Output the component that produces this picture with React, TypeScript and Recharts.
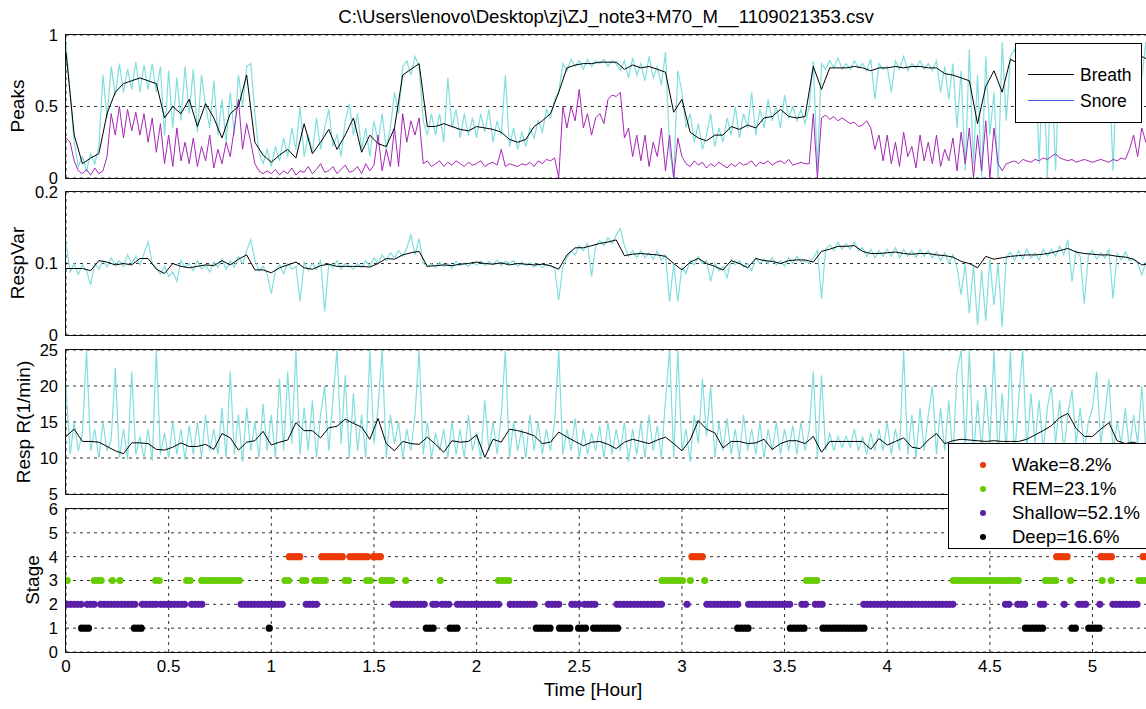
import React from "react"
import { ComposedChart, Line, Scatter, XAxis, YAxis, CartesianGrid } from "recharts"

const FINE_STEP = 0.02
const SMOOTH_STEP = 0.04
const EPOCH = 1 / 60
const X_MAX = 5.28
const PAD = 12
const hourTicks = [0, 0.5, 1, 1.5, 2, 2.5, 3, 3.5, 4, 4.5, 5]
const FONT = "'Liberation Sans', Arial, sans-serif"

// Peaks panel
const breathRaw = [
  0.94, 0.6, 0.25, 0.08, 0.15, 0.05, 0.17, 0.1, 0.22, 0.72,
  0.42, 0.78, 0.58, 0.8, 0.6, 0.76, 0.62, 0.81, 0.6, 0.79,
  0.62, 0.8, 0.6, 0.78, 0.3, 0.75, 0.35, 0.7, 0.4, 0.78,
  0.45, 0.76, 0.32, 0.72, 0.5, 0.35, 0.68, 0.3, 0.55, 0.25,
  0.6, 0.3, 0.72, 0.5, 0.78, 0.8, 0.45, 0.18, 0.1, 0.2,
  0.08, 0.22, 0.12, 0.28, 0.15, 0.35, 0.2, 0.5, 0.15, 0.3,
  0.18, 0.42, 0.2, 0.35, 0.48, 0.22, 0.3, 0.15, 0.4, 0.52,
  0.3, 0.45, 0.2, 0.35, 0.15, 0.4, 0.25, 0.45, 0.2, 0.35,
  0.6, 0.45, 0.78, 0.82, 0.72, 0.85, 0.78, 0.4, 0.3, 0.45,
  0.3, 0.45, 0.25, 0.7, 0.35, 0.48, 0.28, 0.45, 0.3, 0.42,
  0.28, 0.45, 0.32, 0.48, 0.25, 0.4, 0.3, 0.72, 0.22, 0.35,
  0.2, 0.32, 0.22, 0.35, 0.28, 0.4, 0.32, 0.48, 0.42, 0.55,
  0.6, 0.8, 0.75, 0.83, 0.78, 0.82, 0.76, 0.83, 0.78, 0.82,
  0.8, 0.83, 0.78, 0.82, 0.8, 0.75, 0.82, 0.7, 0.84, 0.72,
  0.8, 0.68, 0.85, 0.7, 0.78, 0.65, 0.88, 0.2, 0.0, 0.75,
  0.6, 0.35, 0.45, 0.25, 0.38, 0.2, 0.3, 0.45, 0.22, 0.35,
  0.25, 0.42, 0.3, 0.5, 0.28, 0.45, 0.35, 0.6, 0.3, 0.48,
  0.35, 0.55, 0.4, 0.5, 0.35, 0.58, 0.42, 0.5, 0.4, 0.48,
  0.38, 0.5, 0.82, 0.05, 0.8, 0.76, 0.82, 0.77, 0.84, 0.76,
  0.8, 0.76, 0.82, 0.77, 0.8, 0.75, 0.83, 0.55, 0.8, 0.76,
  0.78, 0.6, 0.82, 0.76, 0.85, 0.75, 0.8, 0.77, 0.82, 0.76,
  0.8, 0.75, 0.82, 0.6, 0.78, 0.55, 0.8, 0.35, 0.75, 0.05,
  0.9, 0.1, 0.72, 0.0, 0.85, 0.3, 0.6, 0.0, 0.95, 0.4,
  0.85, 0.9, 0.8, 0.92, 0.85, 0.5, 0.88, 0.1, 0.85, 0.0,
  0.8, 0.05, 0.85, 0.78, 0.82, 0.6, 0.8, 0.75, 0.82, 0.78,
  0.8, 0.76, 0.82, 0.78, 0.8, 0.05, 0.85, 0.76, 0.82, 0.8,
  0.85, 0.9, 0.7, 0.95, 0.65,
]

const snoreRaw = [
  0.28, 0.25, 0.12, 0.05, 0.03, 0.06, 0.02, 0.07, 0.03, 0.05,
  0.15, 0.45, 0.3, 0.5, 0.28, 0.48, 0.33, 0.46, 0.3, 0.45,
  0.25, 0.42, 0.18, 0.38, 0.1, 0.3, 0.08, 0.35, 0.12, 0.25,
  0.1, 0.28, 0.08, 0.22, 0.12, 0.3, 0.07, 0.2, 0.1, 0.25,
  0.15, 0.35, 0.55, 0.2, 0.38, 0.25, 0.1, 0.05, 0.03, 0.05,
  0.03, 0.06, 0.02, 0.05, 0.03, 0.07, 0.02, 0.05, 0.04, 0.08,
  0.03, 0.06, 0.1, 0.04, 0.05, 0.08, 0.03, 0.06, 0.09, 0.04,
  0.05, 0.08, 0.03, 0.1, 0.05, 0.09, 0.3, 0.05, 0.2, 0.08,
  0.35, 0.08, 0.45, 0.25, 0.4, 0.3, 0.42, 0.1, 0.12, 0.08,
  0.1, 0.12, 0.08, 0.11, 0.09, 0.12, 0.1, 0.08, 0.11, 0.09,
  0.1, 0.12, 0.08, 0.1, 0.11, 0.09, 0.2, 0.08, 0.1, 0.09,
  0.08, 0.1, 0.09, 0.11, 0.08, 0.12, 0.1, 0.13, 0.12, 0.14,
  0.0, 0.5, 0.35, 0.5, 0.4, 0.62, 0.35, 0.45, 0.3, 0.42,
  0.45, 0.38, 0.55, 0.58, 0.57, 0.6, 0.28, 0.35, 0.15, 0.3,
  0.12, 0.3, 0.08, 0.25, 0.15, 0.35, 0.05, 0.3, 0.0, 0.28,
  0.15, 0.1, 0.08, 0.12, 0.09, 0.11, 0.07, 0.1, 0.08, 0.11,
  0.09, 0.07, 0.1, 0.08, 0.11, 0.09, 0.1, 0.12, 0.08, 0.11,
  0.1, 0.12, 0.09, 0.11, 0.12, 0.1, 0.13, 0.09, 0.1, 0.11,
  0.1, 0.1, 0.45, 0.0, 0.42, 0.44, 0.41, 0.43, 0.4, 0.42,
  0.4, 0.38, 0.39, 0.36, 0.37, 0.4, 0.35, 0.2, 0.3, 0.12,
  0.3, 0.1, 0.25, 0.08, 0.32, 0.15, 0.22, 0.07, 0.3, 0.12,
  0.25, 0.1, 0.3, 0.08, 0.2, 0.12, 0.28, 0.05, 0.32, 0.1,
  0.35, 0.0, 0.3, 0.05, 0.4, 0.0, 0.35, 0.1, 0.05, 0.1,
  0.11, 0.12, 0.1, 0.13, 0.12, 0.11, 0.13, 0.12, 0.14, 0.13,
  0.15, 0.17, 0.14, 0.13, 0.12, 0.13, 0.11, 0.12, 0.13, 0.12,
  0.11, 0.12, 0.13, 0.12, 0.11, 0.13, 0.12, 0.14, 0.13, 0.2,
  0.3, 0.15, 0.35, 0.25, 0.32,
]

const breathSmooth = [
  0.88, 0.3, 0.1, 0.14, 0.17, 0.45, 0.6, 0.66, 0.68, 0.7,
  0.68, 0.66, 0.42, 0.5, 0.45, 0.55, 0.36, 0.52, 0.42, 0.28,
  0.45, 0.5, 0.72, 0.25, 0.16, 0.11, 0.16, 0.2, 0.14, 0.38,
  0.17, 0.25, 0.34, 0.2, 0.3, 0.42, 0.18, 0.3, 0.24, 0.22,
  0.35, 0.72, 0.76, 0.8, 0.36, 0.36, 0.38, 0.36, 0.34, 0.33,
  0.36, 0.35, 0.34, 0.32, 0.27, 0.25, 0.27, 0.36, 0.4, 0.45,
  0.6, 0.77, 0.79, 0.8, 0.8, 0.81, 0.81, 0.81, 0.76, 0.79,
  0.77, 0.78, 0.76, 0.74, 0.46, 0.55, 0.32, 0.28, 0.26, 0.3,
  0.3, 0.36, 0.34, 0.37, 0.35, 0.42, 0.43, 0.48, 0.43, 0.42,
  0.43, 0.78, 0.62, 0.77, 0.77, 0.77, 0.78, 0.77, 0.75, 0.77,
  0.77, 0.78, 0.77, 0.78, 0.78, 0.77, 0.77, 0.73, 0.72, 0.7,
  0.68, 0.38, 0.64, 0.75, 0.6, 0.83, 0.8, 0.78, 0.8, 0.75,
  0.8, 0.76, 0.72, 0.78, 0.8, 0.82, 0.8, 0.78, 0.82, 0.8,
  0.84, 0.85, 0.82,
]

// RespVar panel
const varRaw = [
  0.128, 0.088, 0.1, 0.085, 0.098, 0.09, 0.07, 0.1, 0.092, 0.104,
  0.095, 0.108, 0.098, 0.104, 0.096, 0.112, 0.1, 0.11, 0.098, 0.114,
  0.13, 0.1, 0.094, 0.085, 0.096, 0.082, 0.088, 0.075, 0.104, 0.095,
  0.1, 0.09, 0.104, 0.092, 0.098, 0.088, 0.102, 0.095, 0.106, 0.092,
  0.104, 0.095, 0.11, 0.1, 0.118, 0.133, 0.105, 0.09, 0.096, 0.085,
  0.058, 0.09, 0.098, 0.086, 0.1, 0.092, 0.096, 0.047, 0.102, 0.09,
  0.1, 0.092, 0.104, 0.033, 0.1, 0.094, 0.104, 0.092, 0.1, 0.096,
  0.092, 0.1, 0.094, 0.104, 0.096, 0.108, 0.1, 0.112, 0.104, 0.115,
  0.108, 0.118, 0.11, 0.122, 0.14, 0.112, 0.135, 0.1, 0.095, 0.1,
  0.094, 0.102, 0.096, 0.1, 0.093, 0.103, 0.097, 0.101, 0.096, 0.102,
  0.098, 0.104, 0.097, 0.103, 0.099, 0.105, 0.097, 0.103, 0.1, 0.104,
  0.096, 0.102, 0.097, 0.101, 0.095, 0.1, 0.094, 0.099, 0.096, 0.094,
  0.049, 0.095, 0.108, 0.118, 0.112, 0.125, 0.118, 0.128, 0.082, 0.125,
  0.132, 0.125, 0.136, 0.128, 0.14, 0.149, 0.125, 0.11, 0.118, 0.108,
  0.118, 0.108, 0.115, 0.106, 0.118, 0.104, 0.112, 0.047, 0.1, 0.047,
  0.095, 0.086, 0.104, 0.098, 0.11, 0.1, 0.104, 0.075, 0.1, 0.09,
  0.096, 0.08, 0.106, 0.098, 0.104, 0.095, 0.1, 0.09, 0.108, 0.1,
  0.106, 0.1, 0.108, 0.098, 0.104, 0.096, 0.108, 0.1, 0.11, 0.102,
  0.104, 0.1, 0.108, 0.118, 0.051, 0.12, 0.126, 0.118, 0.13, 0.12,
  0.128, 0.12, 0.13, 0.118, 0.122, 0.11, 0.12, 0.108, 0.118, 0.11,
  0.12, 0.11, 0.122, 0.108, 0.12, 0.11, 0.118, 0.108, 0.12, 0.11,
  0.118, 0.108, 0.116, 0.104, 0.115, 0.1, 0.112, 0.095, 0.056, 0.1,
  0.03, 0.098, 0.014, 0.09, 0.02, 0.106, 0.042, 0.1, 0.012, 0.108,
  0.116, 0.104, 0.118, 0.106, 0.12, 0.108, 0.115, 0.105, 0.12, 0.11,
  0.12, 0.11, 0.124, 0.112, 0.133, 0.075, 0.118, 0.11, 0.044, 0.112,
  0.118, 0.106, 0.115, 0.108, 0.12, 0.051, 0.114, 0.105, 0.116, 0.104,
  0.106, 0.1, 0.084, 0.102, 0.108,
]

const varSmooth = [
  0.093, 0.093, 0.093, 0.09, 0.104, 0.102, 0.098, 0.1, 0.098, 0.107,
  0.107, 0.092, 0.086, 0.1, 0.096, 0.094, 0.096, 0.098, 0.097, 0.104,
  0.098, 0.106, 0.112, 0.091, 0.091, 0.087, 0.094, 0.098, 0.102, 0.094,
  0.092, 0.097, 0.099, 0.096, 0.096, 0.096, 0.096, 0.095, 0.1, 0.107,
  0.106, 0.112, 0.115, 0.117, 0.096, 0.097, 0.098, 0.097, 0.099, 0.1,
  0.102, 0.1, 0.099, 0.101, 0.098, 0.1, 0.099, 0.098, 0.099, 0.097,
  0.092, 0.112, 0.122, 0.122, 0.125, 0.128, 0.13, 0.133, 0.111, 0.113,
  0.114, 0.113, 0.112, 0.11, 0.1, 0.091, 0.102, 0.107, 0.1, 0.096,
  0.091, 0.104, 0.1, 0.094, 0.107, 0.104, 0.103, 0.1, 0.104, 0.105,
  0.105, 0.102, 0.117, 0.12, 0.124, 0.124, 0.125, 0.117, 0.114, 0.114,
  0.115, 0.116, 0.114, 0.113, 0.114, 0.114, 0.112, 0.111, 0.109, 0.103,
  0.1, 0.094, 0.11, 0.106, 0.108, 0.11, 0.111, 0.112, 0.112, 0.113,
  0.115, 0.118, 0.121, 0.116, 0.114, 0.113, 0.112, 0.112, 0.11, 0.109,
  0.106, 0.098, 0.1,
]

// Resp R panel
const rateRaw = [
  20, 10.5, 15, 11, 13.5, 25, 11, 14, 10, 15,
  11, 12.5, 22.5, 10, 14, 9.8, 22, 10.5, 13, 10,
  14, 9.6, 25, 10.5, 13.5, 10, 15, 10.5, 14, 9.8,
  14.5, 10.5, 15, 10, 16, 11, 14, 10.5, 17, 10,
  22, 10.5, 16, 9.5, 17, 11, 15, 10, 17.5, 11,
  16, 10, 21, 11, 22, 12, 25, 10.5, 17, 11,
  18, 10, 16, 20, 11, 18, 25, 12, 21.5, 10,
  19, 11, 16, 10, 25, 12, 17, 25, 10, 16,
  12, 15, 10, 14, 11, 16, 25, 10.5, 15, 10,
  13.5, 11, 14, 10, 15, 10.5, 14, 10, 16, 11,
  13.5, 10, 18, 11, 15, 10.5, 16, 25, 10, 15,
  11, 14, 10, 16, 11, 15, 10.5, 14, 11, 15,
  25, 10.5, 14, 11, 15.5, 10, 14, 10.5, 13.5, 11,
  14.5, 10, 15, 10.5, 14, 11, 15, 9.5, 14, 10.5,
  15, 10, 16, 11, 14.5, 10, 18, 25, 10, 25,
  11, 14, 9.5, 16, 12, 21, 13, 20, 10, 15,
  11, 15.5, 10.5, 14, 10, 16, 11, 14, 10.5, 15,
  10, 14, 11, 15, 10.5, 14, 11, 14.5, 10.5, 15,
  11, 14, 22, 10, 21.5, 11, 13.5, 11, 13, 11.5,
  13, 11.5, 14, 11, 13, 10.5, 13.5, 11, 14, 11,
  15, 10.5, 14, 11, 25, 10.5, 16, 10, 17, 11,
  16, 20, 10.5, 17, 11, 18, 10, 22, 25, 11,
  25, 10, 18, 11, 20, 12, 25, 10, 19, 11,
  25, 10, 18, 25, 11, 19, 12, 18, 11, 17,
  20, 12, 18, 11, 16, 19.5, 12, 17, 11, 15,
  17, 22, 12, 16, 21, 11, 15, 12, 17, 11,
  16, 12, 20, 11, 15,
]

const rateSmooth = [
  13.0, 14.0, 12.3, 12.3, 12.2, 11.6, 11.0, 10.6, 12.1, 12.1,
  12.0, 11.2, 11.1, 11.5, 12.1, 11.6, 11.6, 11.9, 11.2, 13.4,
  12.8, 11.1, 12.2, 12.4, 13.7, 11.8, 12.2, 12.5, 14.9, 13.8,
  13.8, 12.8, 14.2, 14.4, 15.4, 14.8, 14.3, 12.6, 15.5, 12.0,
  11.0, 12.3, 12.0, 11.9, 12.9, 11.9, 10.8, 12.4, 12.2, 12.3,
  13.2, 10.1, 12.6, 12.2, 14.0, 13.8, 13.5, 13.1, 12.0, 12.2,
  13.6, 12.9, 12.3, 11.7, 12.2, 12.3, 11.9, 11.3, 12.2, 12.6,
  12.3, 12.0, 12.5, 12.9, 12.0, 11.0, 12.5, 15.2, 14.0, 13.5,
  11.4, 12.3, 12.3, 12.0, 12.1, 12.6, 11.2, 12.0, 12.4, 12.4,
  12.0, 13.0, 10.8, 12.3, 12.3, 12.3, 12.3, 12.3, 11.2, 12.7,
  11.8, 12.3, 12.8, 11.5, 11.3, 12.5, 13.4, 12.0, 12.4, 12.6,
  12.5, 12.4, 12.3, 12.4, 12.3, 12.3, 12.3, 12.6, 13.2, 13.8,
  14.5, 15.6, 16.2, 14.1, 13.0, 13.0, 14.0, 14.9, 12.4, 12.0,
  12.2, 11.8, 12.0,
]

// Stage panel: runs of consecutive epochs, [start hour, end hour]
const wakeSegs = [
  [1.088, 1.153], [1.246, 1.36], [1.384, 1.473], [1.498, 1.543],
  [3.049, 3.106], [4.826, 4.884], [5.042, 5.096], [5.247, 5.27],
]
const remSegs = [
  [0.006, 0.006], [0.138, 0.179], [0.226, 0.226], [0.263, 0.263], [0.437, 0.466],
  [0.588, 0.617], [0.661, 0.856], [1.067, 1.092], [1.152, 1.173], [1.213, 1.265],
  [1.36, 1.392], [1.465, 1.498], [1.538, 1.595], [1.655, 1.655], [1.823, 1.823],
  [2.107, 2.167], [2.903, 3.017], [3.041, 3.041], [3.111, 3.111], [3.607, 3.658],
  [4.322, 4.65], [4.771, 4.836], [4.893, 4.893], [5.047, 5.047], [5.091, 5.091],
  [5.226, 5.27],
]
const shallowSegs = [
  [0.006, 0.084], [0.104, 0.141], [0.169, 0.344], [0.372, 0.442], [0.461, 0.591],
  [0.612, 0.666], [0.853, 1.067], [1.17, 1.235], [1.595, 1.758], [1.787, 1.82],
  [1.831, 1.879], [1.907, 2.115], [2.164, 2.297], [2.35, 2.415], [2.464, 2.505],
  [2.526, 2.578], [2.684, 2.911], [3.025, 3.025], [3.122, 3.285], [3.325, 3.528],
  [3.585, 3.618], [3.65, 3.687], [3.886, 4.325], [4.576, 4.6], [4.636, 4.681],
  [4.746, 4.779], [4.862, 4.862], [4.933, 4.982], [5.036, 5.036], [5.1, 5.23],
]
const deepSegs = [
  [0.076, 0.117], [0.333, 0.377], [0.99, 0.99], [1.755, 1.793], [1.871, 1.912],
  [2.291, 2.362], [2.404, 2.469], [2.497, 2.537], [2.57, 2.687], [3.272, 3.33],
  [3.528, 3.601], [3.687, 3.893], [4.673, 4.763], [4.9, 4.933], [4.982, 5.036],
]

const stages = [
  { name: "Wake", level: 4, segs: wakeSegs, color: "#ec3a08", label: "Wake=8.2%" },
  { name: "REM", level: 3, segs: remSegs, color: "#66cc00", label: "REM=23.1%" },
  { name: "Shallow", level: 2, segs: shallowSegs, color: "#5b20a8", label: "Shallow=52.1%" },
  { name: "Deep", level: 1, segs: deepSegs, color: "#000000", label: "Deep=16.6%" },
]

const CYAN = "#82dede"
const MAGENTA = "#a626b6"

const toRows = (vals: number[], step: number) =>
  vals.map((v, i) => ({ t: +(i * step).toFixed(3), v }))

const expand = (segs: number[][], level: number) =>
  segs.flatMap(([a, b]) => {
    const pts: { t: number; v: number }[] = []
    for (let t = a; t <= b + 1e-6; t += EPOCH) pts.push({ t, v: level })
    return pts
  })

type PanelProps = {
  top: number
  height: number
  domain: [number, number]
  ticks: number[]
  showX?: boolean
  children: React.ReactNode
}

function Panel({ top, height, domain, ticks, showX, children }: PanelProps) {
  const axisH = showX ? 40 : 0
  return (
    <>
      <div style={{ position: "absolute", left: 0, top: top - PAD, width: 1150 }}>
        <ComposedChart
          width={1150}
          height={height + axisH + PAD * 2}
          margin={{ top: PAD, right: 0, bottom: PAD, left: 0 }}
        >
          <CartesianGrid stroke="#333" strokeDasharray="3 4" />
          <XAxis
            type="number"
            dataKey="t"
            domain={[0, X_MAX]}
            ticks={hourTicks}
            interval={0}
            allowDataOverflow
            height={axisH}
            axisLine={false}
            tickLine={false}
            tick={showX ? { fill: "#000", fontSize: 17, fontFamily: FONT } : false}
          />
          <YAxis
            type="number"
            domain={domain}
            ticks={ticks}
            interval={0}
            allowDataOverflow
            width={66}
            axisLine={false}
            tickLine={false}
            tick={{ fill: "#000", fontSize: 16.5, fontFamily: FONT }}
          />
          {children}
        </ComposedChart>
      </div>
      <div
        style={{
          position: "absolute",
          left: 65,
          top: top - 1,
          width: 1090,
          height: height + 2,
          border: "1px solid #111",
          boxSizing: "border-box",
          pointerEvents: "none",
        }}
      />
    </>
  )
}

function YLabel({ text, x, y }: { text: string; x: number; y: number }) {
  return (
    <div
      style={{
        position: "absolute",
        left: x,
        top: y,
        transform: "translate(-50%, -50%) rotate(-90deg)",
        whiteSpace: "nowrap",
        fontSize: 19,
      }}
    >
      {text}
    </div>
  )
}

export default function App() {
  const line = (data: any[], color: string, w = 1) => (
    <Line
      data={data}
      dataKey="v"
      stroke={color}
      strokeWidth={w}
      dot={false}
      isAnimationActive={false}
      type="linear"
    />
  )

  return (
    <div
      style={{
        position: "absolute",
        left: 0,
        top: 0,
        width: 1146,
        height: 709,
        overflow: "hidden",
        background: "#fff",
        fontFamily: FONT,
        color: "#000",
      }}
    >
      <div style={{ position: "absolute", left: 66, width: 1080, top: 7, textAlign: "center", fontSize: 18.6, lineHeight: "20px" }}>
        C:\Users\lenovo\Desktop\zj\ZJ_note3+M70_M__1109021353.csv
      </div>

      <Panel top={35} height={143} domain={[0, 1]} ticks={[0, 0.5, 1]}>
        {line(toRows(breathRaw, FINE_STEP), CYAN, 1.2)}
        {line(toRows(snoreRaw, FINE_STEP), MAGENTA)}
        {line(toRows(breathSmooth, SMOOTH_STEP), "#000")}
      </Panel>

      <Panel top={192} height={143} domain={[0, 0.2]} ticks={[0, 0.1, 0.2]}>
        {line(toRows(varRaw, FINE_STEP), CYAN, 1.2)}
        {line(toRows(varSmooth, SMOOTH_STEP), "#000")}
      </Panel>

      <Panel top={350} height={144} domain={[5, 25]} ticks={[5, 10, 15, 20, 25]}>
        {line(toRows(rateRaw, FINE_STEP), CYAN, 1.2)}
        {line(toRows(rateSmooth, SMOOTH_STEP), "#000")}
      </Panel>

      <Panel top={509} height={143} domain={[0, 6]} ticks={[0, 1, 2, 3, 4, 5, 6]} showX>
        {stages.map((s) => (
          <Scatter
            key={s.name}
            data={expand(s.segs, s.level)}
            dataKey="v"
            isAnimationActive={false}
            shape={(p: any) => <circle cx={p.cx} cy={p.cy} r={3.6} fill={s.color} />}
          />
        ))}
      </Panel>

      <YLabel text="Peaks" x={18} y={106} />
      <YLabel text="RespVar" x={18} y={263} />
      <YLabel text="Resp R(1/min)" x={24} y={422} />
      <YLabel text="Stage" x={33} y={580} />

      <div style={{ position: "absolute", left: 393, width: 400, top: 680, textAlign: "center", fontSize: 19, lineHeight: "20px" }}>
        Time [Hour]
      </div>

      {/* Peaks legend */}
      <div style={{ position: "absolute", left: 1015, top: 43, width: 127, height: 80, border: "1px solid #000", background: "#fff", boxSizing: "border-box", fontSize: 17.5 }}>
        <div style={{ position: "absolute", left: 12, top: 30, width: 46, borderTop: "1px solid #000" }} />
        <div style={{ position: "absolute", left: 64, top: 21, lineHeight: "20px" }}>Breath</div>
        <div style={{ position: "absolute", left: 12, top: 56, width: 46, borderTop: "1px solid #3a62d8" }} />
        <div style={{ position: "absolute", left: 64, top: 47, lineHeight: "20px" }}>Snore</div>
      </div>

      {/* Stage legend */}
      <div style={{ position: "absolute", left: 948, top: 443, width: 220, height: 106, border: "1px solid #000", background: "#fff", boxSizing: "border-box", fontSize: 18.5 }}>
        {stages.map((s, i) => (
          <React.Fragment key={s.name}>
            <div style={{ position: "absolute", left: 31, top: 18 + i * 24, width: 6, height: 6, borderRadius: 3, background: s.color }} />
            <div style={{ position: "absolute", left: 63, top: 10 + i * 24, lineHeight: "22px", whiteSpace: "nowrap" }}>{s.label}</div>
          </React.Fragment>
        ))}
      </div>
    </div>
  )
}
